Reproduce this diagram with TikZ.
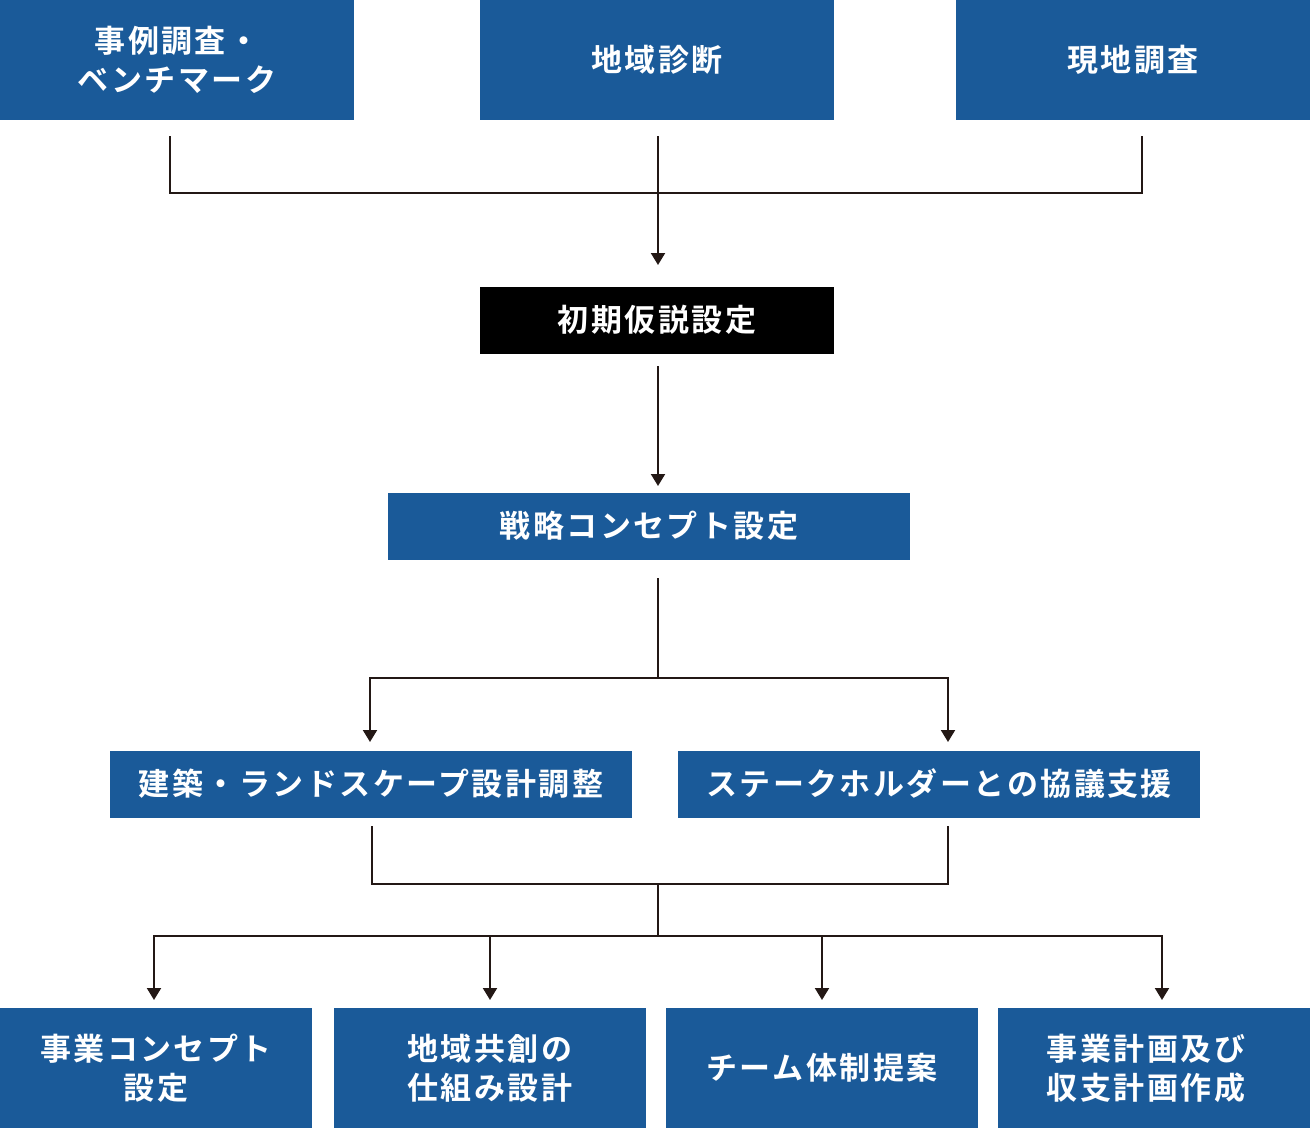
\documentclass[tikz,border=0pt]{standalone}
\usepackage{fontspec}
\setmainfont{Noto Sans CJK JP}[BoldFont=* Bold, LetterSpace=8]
\usetikzlibrary{arrows.meta}
\definecolor{boxblue}{HTML}{1A5A99}
\definecolor{linedark}{HTML}{231815}
\begin{document}
\begin{tikzpicture}[x=1pt,y=-1pt,
    bluebox/.style={fill=boxblue, text=white, inner sep=0pt, align=center,
      font=\bfseries\fontsize{31}{39}\selectfont},
    blackbox/.style={bluebox, fill=black},
    link/.style={linedark, line width=2pt},
    arr/.style={link, -{Triangle[width=14pt,length=12pt]}}]
        \useasboundingbox (0,0) rectangle (1310,1128);
        % first row
        \node[bluebox, minimum width=354pt, minimum height=120pt] (case) at (177,60) {事例調査・\\ベンチマーク};
        \node[bluebox, minimum width=354pt, minimum height=120pt] (area) at (657,60) {地域診断};
        \node[bluebox, minimum width=354pt, minimum height=120pt] (site) at (1133,60) {現地調査};
        \coordinate (join1) at (658,193);
        \draw [link] (170,136)--(170,193)--(1142,193)--(1142,136);
        \draw [link] (658,136)--(join1);
        \node[blackbox, minimum width=354pt, minimum height=67pt] (hypo) at (657,320) {初期仮説設定};
        \draw [arr] (join1)--(658,265);
        \node[bluebox, minimum width=522pt, minimum height=67pt] (strat) at (649,526) {戦略コンセプト設定};
        \draw [arr] (658,366)--(658,486);
        % second split
        \node[bluebox, minimum width=522pt, minimum height=67pt] (arch) at (371,784) {建築・ランドスケープ設計調整};
        \node[bluebox, minimum width=522pt, minimum height=67pt] (stake) at (939,784) {ステークホルダーとの協議支援};
        \draw [link] (658,578)--(658,678);
        \draw [link] (370,678)--(948,678);
        \draw [arr] (370,677)--(370,742);
        \draw [arr] (948,677)--(948,742);
        % merge and last row
        \draw [link] (372,826)--(372,884)--(948,884)--(948,826);
        \draw [link] (658,884)--(658,936);
        \draw [link] (154,936)--(1162,936);
        \node[bluebox, minimum width=312pt, minimum height=120pt] (biz) at (156,1068) {事業コンセプト\\設定};
        \node[bluebox, minimum width=312pt, minimum height=120pt] (cocreate) at (490,1068) {地域共創の\\仕組み設計};
        \node[bluebox, minimum width=312pt, minimum height=120pt] (team) at (822,1068) {チーム体制提案};
        \node[bluebox, minimum width=312pt, minimum height=120pt] (plan) at (1154,1068) {事業計画及び\hspace*{16pt}\\収支計画作成\hspace*{16pt}};
        \foreach \x in {154,490,822,1162}
            \draw [arr] (\x,935)--(\x,1000);
\end{tikzpicture}
\end{document}
